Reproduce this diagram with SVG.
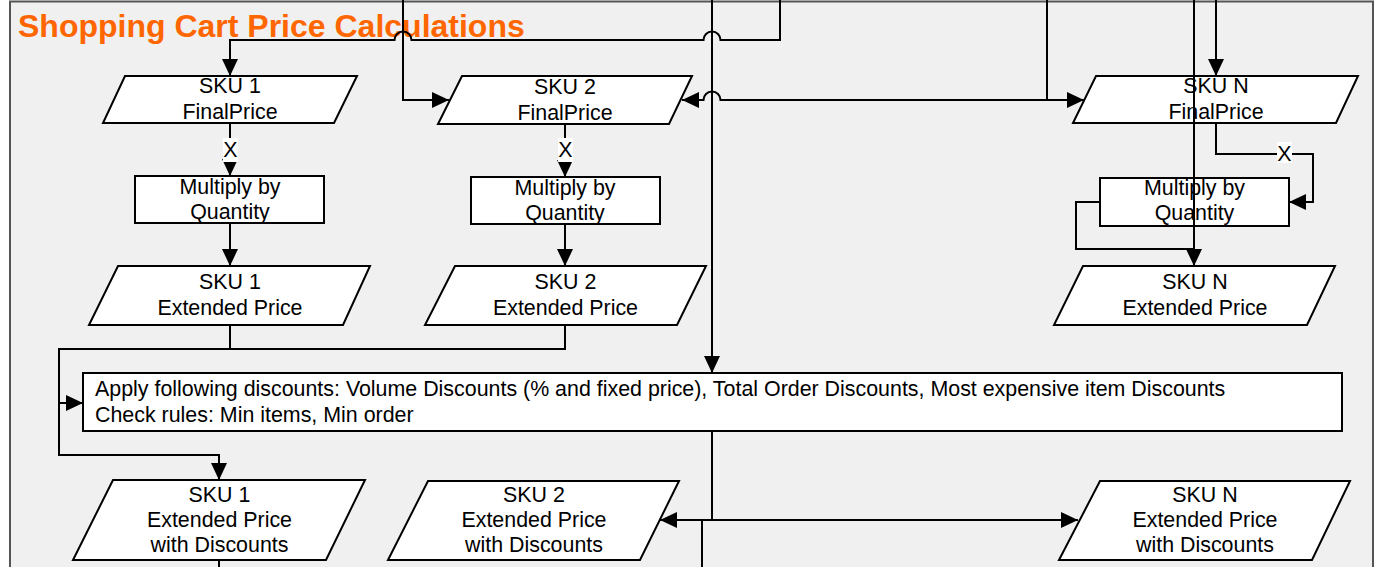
<svg xmlns="http://www.w3.org/2000/svg" width="1378" height="567" viewBox="0 0 1378 567">
  <style>
    .panel { fill: #f0f0f0; stroke: #555555; stroke-width: 2; }
    .title { font-family: "Liberation Sans", Arial, sans-serif; font-weight: bold; font-size: 32px; fill: #ff6600; }
    .shape { fill: #ffffff; stroke: #000000; stroke-width: 2; }
    .lbl { font-family: "Liberation Sans", Arial, sans-serif; font-size: 21.4px; fill: #000000; text-anchor: middle; }
    .lbl-left { font-family: "Liberation Sans", Arial, sans-serif; font-size: 21.4px; fill: #000000; }
    .wire { fill: none; stroke: #000000; stroke-width: 2; }
    .xbg { fill: #ffffff; stroke: none; }
  </style>
  <defs>
    <marker id="arrow" markerUnits="userSpaceOnUse" markerWidth="18" markerHeight="16" refX="17" refY="8" orient="auto">
      <path d="M0,0 L17,8 L0,16 z" fill="#000000"/>
    </marker>
  </defs>

  <!-- background panel -->
  <rect class="panel" x="10" y="1.5" width="1363" height="600"/>
  <text class="title" x="18" y="37">Shopping Cart Price Calculations</text>

  <!-- row 1: final prices -->
  <g id="sku1-final">
    <polygon class="shape" points="125,76 357,76 334,123 103,123"/>
    <text class="lbl" x="230" y="93">SKU 1</text>
    <text class="lbl" x="230" y="119">FinalPrice</text>
  </g>
  <g id="sku2-final">
    <polygon class="shape" points="462,76 692,76 669,124 438,124"/>
    <text class="lbl" x="565" y="94">SKU 2</text>
    <text class="lbl" x="565" y="120">FinalPrice</text>
  </g>
  <g id="skuN-final">
    <polygon class="shape" points="1096,76 1358,76 1336,123 1073,123"/>
    <text class="lbl" x="1216" y="93">SKU N</text>
    <text class="lbl" x="1216" y="119">FinalPrice</text>
  </g>

  <!-- row 2: multiply steps -->
  <g id="mult1">
    <rect class="shape" x="135" y="176" width="189" height="47"/>
    <text class="lbl" x="230" y="194">Multiply by</text>
    <text class="lbl" x="230" y="219">Quantity</text>
  </g>
  <g id="mult2">
    <rect class="shape" x="471" y="177" width="189" height="47"/>
    <text class="lbl" x="565" y="195">Multiply by</text>
    <text class="lbl" x="565" y="220">Quantity</text>
  </g>
  <g id="multN">
    <rect class="shape" x="1100" y="178" width="189" height="48"/>
    <text class="lbl" x="1194.5" y="195">Multiply by</text>
    <text class="lbl" x="1194.5" y="220">Quantity</text>
  </g>

  <!-- row 3: extended prices -->
  <g id="sku1-ext">
    <polygon class="shape" points="118,266 370,266 343,325 89,325"/>
    <text class="lbl" x="230" y="289">SKU 1</text>
    <text class="lbl" x="230" y="315">Extended Price</text>
  </g>
  <g id="sku2-ext">
    <polygon class="shape" points="455,266 706,266 677,325 425,325"/>
    <text class="lbl" x="565.5" y="289">SKU 2</text>
    <text class="lbl" x="565.5" y="315">Extended Price</text>
  </g>
  <g id="skuN-ext">
    <polygon class="shape" points="1083,266 1335,266 1307,325 1054,325"/>
    <text class="lbl" x="1195" y="289">SKU N</text>
    <text class="lbl" x="1195" y="315">Extended Price</text>
  </g>

  <!-- discount step -->
  <g id="apply-discounts">
    <rect class="shape" x="83" y="373" width="1259" height="58"/>
    <text class="lbl-left" x="95" y="396">Apply following discounts: Volume Discounts (% and fixed price), Total Order Discounts, Most expensive item Discounts</text>
    <text class="lbl-left" x="95" y="422">Check rules: Min items, Min order</text>
  </g>

  <!-- row 4: discounted prices -->
  <g id="sku1-disc">
    <polygon class="shape" points="113,480 365,480 326,560 73,560"/>
    <text class="lbl" x="219.5" y="502">SKU 1</text>
    <text class="lbl" x="219.5" y="527">Extended Price</text>
    <text class="lbl" x="219.5" y="552">with Discounts</text>
  </g>
  <g id="sku2-disc">
    <polygon class="shape" points="428,481 679,481 640,560 388,560"/>
    <text class="lbl" x="534" y="502">SKU 2</text>
    <text class="lbl" x="534" y="527">Extended Price</text>
    <text class="lbl" x="534" y="552">with Discounts</text>
  </g>
  <g id="skuN-disc">
    <polygon class="shape" points="1100,481 1350,481 1312,560 1059,560"/>
    <text class="lbl" x="1205" y="502">SKU N</text>
    <text class="lbl" x="1205" y="527">Extended Price</text>
    <text class="lbl" x="1205" y="552">with Discounts</text>
  </g>

  <!-- connectors -->
  <g id="connectors">
    <!-- incoming from above -->
    <path class="wire" d="M780,0 V40 H720.5 A8.5,8.5 0 0 0 703.5,40 H411.5 A8.5,8.5 0 0 0 394.5,40 H230 V76" marker-end="url(#arrow)"/>
    <path class="wire" d="M403,0 V100 H449" marker-end="url(#arrow)"/>
    <path class="wire" d="M712,0 V373" marker-end="url(#arrow)"/>
    <path class="wire" d="M1047,0 V100 H720.5 A8.5,8.5 0 0 0 703.5,100 H682" marker-end="url(#arrow)"/>
    <path class="wire" d="M1047,100 H1084" marker-end="url(#arrow)"/>
    <path class="wire" d="M1194,0 V266" marker-end="url(#arrow)"/>
    <path class="wire" d="M1216,0 V76" marker-end="url(#arrow)"/>

    <!-- final price to multiply -->
    <path class="wire" d="M230,123 V176" marker-end="url(#arrow)"/>
    <path class="wire" d="M565,124 V177" marker-end="url(#arrow)"/>
    <path class="wire" d="M1216,123 V154 H1313 V202 H1289" marker-end="url(#arrow)"/>

    <!-- multiply to extended price -->
    <path class="wire" d="M230,223 V266" marker-end="url(#arrow)"/>
    <path class="wire" d="M565,224 V266" marker-end="url(#arrow)"/>
    <path class="wire" d="M1100,202 H1076 V249 H1194"/>

    <!-- extended prices into discounts -->
    <path class="wire" d="M230,325 V349 H59 V403 H83" marker-end="url(#arrow)"/>
    <path class="wire" d="M565,325 V349 H230"/>
    <path class="wire" d="M59,403 V455 H219 V480" marker-end="url(#arrow)"/>

    <!-- discounts out -->
    <path class="wire" d="M712,431 V520 H660" marker-end="url(#arrow)"/>
    <path class="wire" d="M712,520 H1078" marker-end="url(#arrow)"/>
    <path class="wire" d="M702,521 V567"/>
    <path class="wire" d="M219,560 V567"/>

    <!-- multiplier labels -->
    <rect class="xbg" x="223" y="138" width="15" height="24"/>
    <text class="lbl" x="230.5" y="157">X</text>
    <rect class="xbg" x="558" y="138" width="15" height="24"/>
    <text class="lbl" x="565.5" y="157">X</text>
    <rect class="xbg" x="1277" y="142" width="15" height="21"/>
    <text class="lbl" x="1284.5" y="161">X</text>
  </g>
</svg>
